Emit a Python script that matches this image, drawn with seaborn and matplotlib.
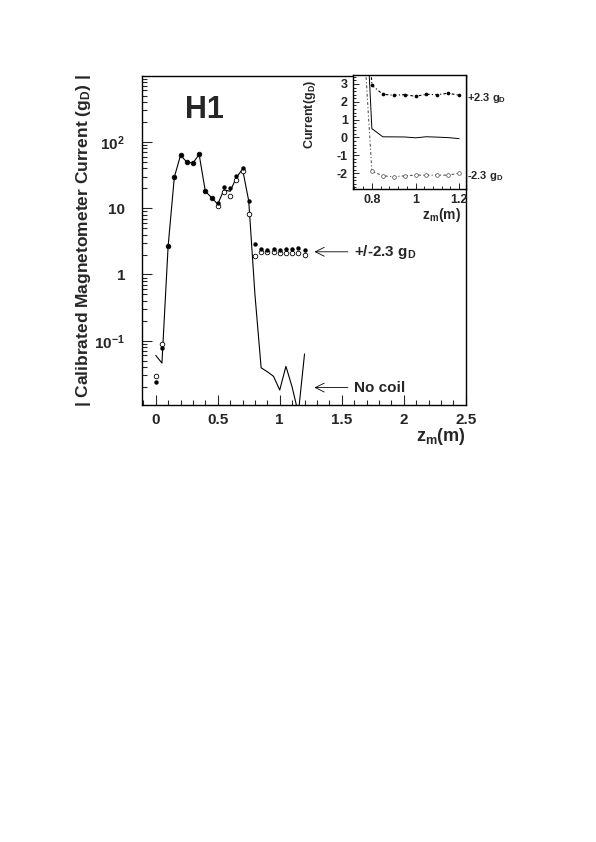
import numpy as np
import pandas as pd
import matplotlib
matplotlib.use('Agg')
import matplotlib.pyplot as plt
from matplotlib.ticker import (MultipleLocator, FixedLocator, LogLocator,
                               NullFormatter, AutoMinorLocator, FuncFormatter)
import seaborn as sns

# ── Data ────────────────────────────────────────────────────────────────────
z = [0.0, 0.05, 0.1, 0.15, 0.2, 0.25, 0.3, 0.35, 0.4, 0.45, 0.5, 0.55, 0.6,
     0.65, 0.7, 0.75, 0.8, 0.85, 0.9, 0.95, 1.0, 1.05, 1.1, 1.15, 1.2]

# +2.3 gD coil (filled dots), signed current in gD
plus = [0.0235, 0.077, 2.7, 29.5, 63, 50, 48, 65, 18, 14.5, 12.2, 21, 20,
        31, 41, 12.9, 2.93, 2.42, 2.37, 2.40, 2.31, 2.42, 2.40, 2.48, 2.37]

# -2.3 gD coil (open dots), signed current in gD
minus = [0.029, 0.089, 2.7, 29.5, 63, 50, 48, 65, 18, 14.5, 10.8, 17.4, 15.5,
         27, 37, 8.1, -1.89, -2.15, -2.20, -2.15, -2.11, -2.11, -2.11, -2.11, -2.0]

# no coil (solid line), signed current in gD
nocoil = [0.06, 0.046, 2.7, 29.5, 63, 50, 48, 65, 18, 14.5, 11.5, 19, 18,
          29, 39, 12.9, 0.5, 0.039, 0.034, 0.029, -0.018, 0.041, 0.02, -0.008, -0.063]

ytick_vals = [0.1, 1, 10, 100]
ytick_text = ['10$^{-1}$', '1', '10', '10$^{2}$']
inset_start = 15   # inset shows z >= 0.75

df = pd.DataFrame({'z': z, 'plus': plus, 'minus': minus, 'nocoil': nocoil})
df['plus_abs'] = df['plus'].abs()
df['minus_abs'] = df['minus'].abs()
df['nocoil_abs'] = df['nocoil'].abs()
ins = df.iloc[inset_start:]

# ── Style ───────────────────────────────────────────────────────────────────
sns.set_theme(style='ticks')
plt.rcParams.update({
    'font.family': ['Liberation Sans', 'DejaVu Sans'],
    'font.weight': 'bold',
    'mathtext.fontset': 'custom',
    'mathtext.rm': 'Liberation Sans:bold',
    'mathtext.bf': 'Liberation Sans:bold',
    'mathtext.it': 'Liberation Sans:bold',
    'mathtext.default': 'bf',
    'axes.unicode_minus': False,
    'axes.linewidth': 1.0,
    'axes.edgecolor': 'black',
})

fig = plt.figure(figsize=(5.96, 8.42), dpi=100)

# ── Main panel ──────────────────────────────────────────────────────────────
ax = fig.add_axes([0.2378, 0.519, 0.5436, 0.391])
ax.set_yscale('log')

sns.lineplot(data=df, x='z', y='nocoil_abs', ax=ax, color='black', lw=0.8,
             estimator=None, sort=False)
sns.scatterplot(data=df, x='z', y='minus_abs', ax=ax, marker='o', s=11,
                facecolor='white', edgecolor='black', linewidth=0.6, zorder=3)
sns.scatterplot(data=df, x='z', y='plus_abs', ax=ax, marker='o', s=10,
                color='black', edgecolor='black', linewidth=0, zorder=4)

ax.set_xlim(-0.113, 2.5)
ax.set_ylim(0.0107, 1000)

ax.xaxis.set_major_locator(MultipleLocator(0.5))
ax.xaxis.set_minor_locator(MultipleLocator(0.1))
ax.xaxis.set_major_formatter(FuncFormatter(lambda v, _: f'{v:g}'))
ax.yaxis.set_major_locator(FixedLocator(ytick_vals))
ax.set_yticklabels(ytick_text)
ax.yaxis.set_minor_locator(LogLocator(base=10, subs=range(2, 10), numticks=20))
ax.yaxis.set_minor_formatter(NullFormatter())
ax.tick_params(which='both', direction='in', top=False, right=False,
               labelsize=11, width=0.8)
ax.tick_params(axis='y', which='major', length=7, pad=12)
ax.tick_params(axis='y', which='minor', length=3.5)
ax.tick_params(axis='x', which='major', length=7, pad=6)
ax.tick_params(axis='x', which='minor', length=3.5)

ax.set_ylabel('| Calibrated Magnetometer Current (g$_{D}$) |', fontsize=12.5,
              fontweight='bold')
ax.yaxis.set_label_coords(-0.15, 0.5)
ax.set_xlabel('z$_{m}$(m)', fontsize=13, fontweight='bold')
ax.xaxis.label.set_ha('right')
ax.xaxis.label.set_va('center')
ax.xaxis.set_label_coords(1.0, -0.097)

ax.text(0.195, 0.896, 'H1', transform=ax.transAxes, fontsize=22,
        fontweight='bold', ha='center', va='center')

arrow = dict(arrowstyle='->', color='black', lw=0.6, mutation_scale=16,
             shrinkA=0, shrinkB=0)
ax.annotate('', xy=(1.28, 2.2), xytext=(1.55, 2.2), arrowprops=arrow)
ax.text(1.60, 2.2, '+/-2.3 g$_{D}$', fontsize=11, fontweight='bold',
        ha='left', va='center')
ax.annotate('', xy=(1.28, 0.0196), xytext=(1.55, 0.0196), arrowprops=arrow)
ax.text(1.60, 0.0196, 'No coil', fontsize=11, fontweight='bold',
        ha='left', va='center')

# ── Inset (linear scale, signed current) ────────────────────────────────────
axin = fig.add_axes([0.5928, 0.7759, 0.1886, 0.1354])
axin.set_facecolor('white')

sns.lineplot(data=ins, x='z', y='nocoil', ax=axin, color='black', lw=0.7,
             estimator=None, sort=False)
sns.lineplot(data=ins, x='z', y='plus', ax=axin, color='black', lw=0.8,
             estimator=None, sort=False, dashes=False)
sns.lineplot(data=ins, x='z', y='minus', ax=axin, color='#555555', lw=0.8,
             estimator=None, sort=False, dashes=False)
for ln in axin.lines[1:]:
    ln.set_linestyle((0, (1, 2, 2.5, 2)))
sns.scatterplot(data=ins, x='z', y='minus', ax=axin, marker='o', s=7,
                facecolor='white', edgecolor='#444444', linewidth=0.5, zorder=3)
sns.scatterplot(data=ins, x='z', y='plus', ax=axin, marker='o', s=7,
                color='black', linewidth=0, zorder=4)

axin.set_xlim(0.715, 1.23)
axin.set_ylim(-2.87, 3.52)
axin.xaxis.set_major_locator(FixedLocator([0.8, 1.0, 1.2]))
axin.xaxis.set_major_formatter(FuncFormatter(lambda v, _: f'{v:g}'))
axin.xaxis.set_minor_locator(AutoMinorLocator(5))
axin.yaxis.set_major_locator(MultipleLocator(1))
axin.yaxis.set_minor_locator(AutoMinorLocator(5))
axin.tick_params(which='both', direction='in', top=False, right=False,
                 labelsize=9, width=0.7)
axin.tick_params(which='major', length=4, pad=4)
axin.tick_params(which='minor', length=2)
axin.set_ylabel('Current(g$_{D}$)', fontsize=9, fontweight='bold')
axin.yaxis.set_label_coords(-0.31, 0.655)
axin.set_xlabel('z$_{m}$(m)', fontsize=10, fontweight='bold')
axin.xaxis.label.set_ha('right')
axin.xaxis.label.set_va('center')
axin.xaxis.set_label_coords(0.96, -0.23)

axin.annotate('+2.3 g$_{D}$', xy=(1.01, 2.21), xycoords=('axes fraction', 'data'),
              fontsize=8, fontweight='bold', ha='left', va='center',
              annotation_clip=False)
axin.annotate('-2.3 g$_{D}$', xy=(1.01, -2.15), xycoords=('axes fraction', 'data'),
              fontsize=8, fontweight='bold', ha='left', va='center',
              annotation_clip=False)

fig.savefig('out.png', dpi=100)
plt.close()
